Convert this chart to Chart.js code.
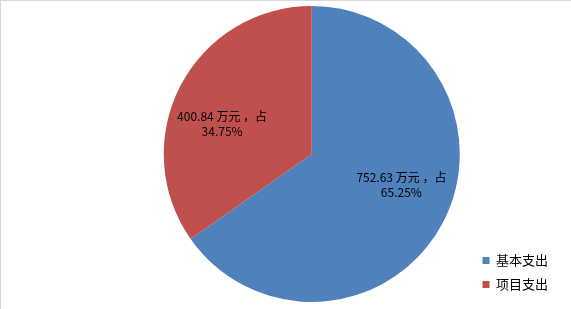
<!DOCTYPE html>
<html>
<head>
<meta charset="utf-8">
<script src="https://cdn.jsdelivr.net/npm/chart.js@4/dist/chart.umd.min.js"></script>
<style>
  html, body { margin: 0; padding: 0; background: #fff; }
  #wrap { position: relative; width: 571px; height: 309px; border-top: 1px solid #d9d9d9; border-left: 1px solid #d9d9d9; box-sizing: border-box; }
</style>
</head>
<body>
<div id="wrap"><canvas id="pie_chart" width="570" height="308"></canvas></div>
<script>
// chart data
const categories = ["基本支出", "项目支出"];
const amounts = [752.63, 400.84];
const percents = ["65.25%", "34.75%"];
const colors = ["#4F81BD", "#C0504D"];

const ctx = document.getElementById("pie_chart").getContext("2d");

// draws "xxx 万元 ，占 / yy%" inside each slice
const sliceLabels = {
  id: "sliceLabels",
  afterDatasetsDraw(chart) {
    const c = chart.ctx;
    const meta = chart.getDatasetMeta(0);
    c.save();
    c.font = "12px 'Noto Sans CJK SC', 'DejaVu Sans', sans-serif";
    c.fillStyle = "#000";
    c.textAlign = "center";
    c.textBaseline = "middle";
    meta.data.forEach((arc, i) => {
      const p = arc.getProps(["x", "y", "startAngle", "endAngle", "outerRadius"], true);
      const mid = (p.startAngle + p.endAngle) / 2 - 0.15;
      const r = p.outerRadius * 0.64;
      const x = p.x + Math.cos(mid) * r;
      const y = p.y + Math.sin(mid) * r;
      c.fillText(amounts[i] + " 万元 ，占", x, y - 7);
      c.fillText(percents[i], x, y + 8);
    });
    c.restore();
  }
};

let my_chart = new Chart(ctx, {
  type: "pie",
  data: {
    labels: categories,
    datasets: [{
      data: amounts,
      backgroundColor: colors,
      borderWidth: 0
    }]
  },
  options: {
    responsive: false,
    animation: false,
    layout: { padding: { left: 151, top: 5, bottom: 7, right: 13 } },
    plugins: {
      tooltip: { enabled: false },
      legend: {
        position: "right",
        align: "end",
        labels: {
          boxWidth: 7,
          boxHeight: 7,
          padding: 11,
          color: "#000",
          font: { size: 13, family: "'Noto Sans CJK SC', sans-serif" }
        }
      }
    }
  },
  plugins: [sliceLabels]
});
</script>
</body>
</html>
